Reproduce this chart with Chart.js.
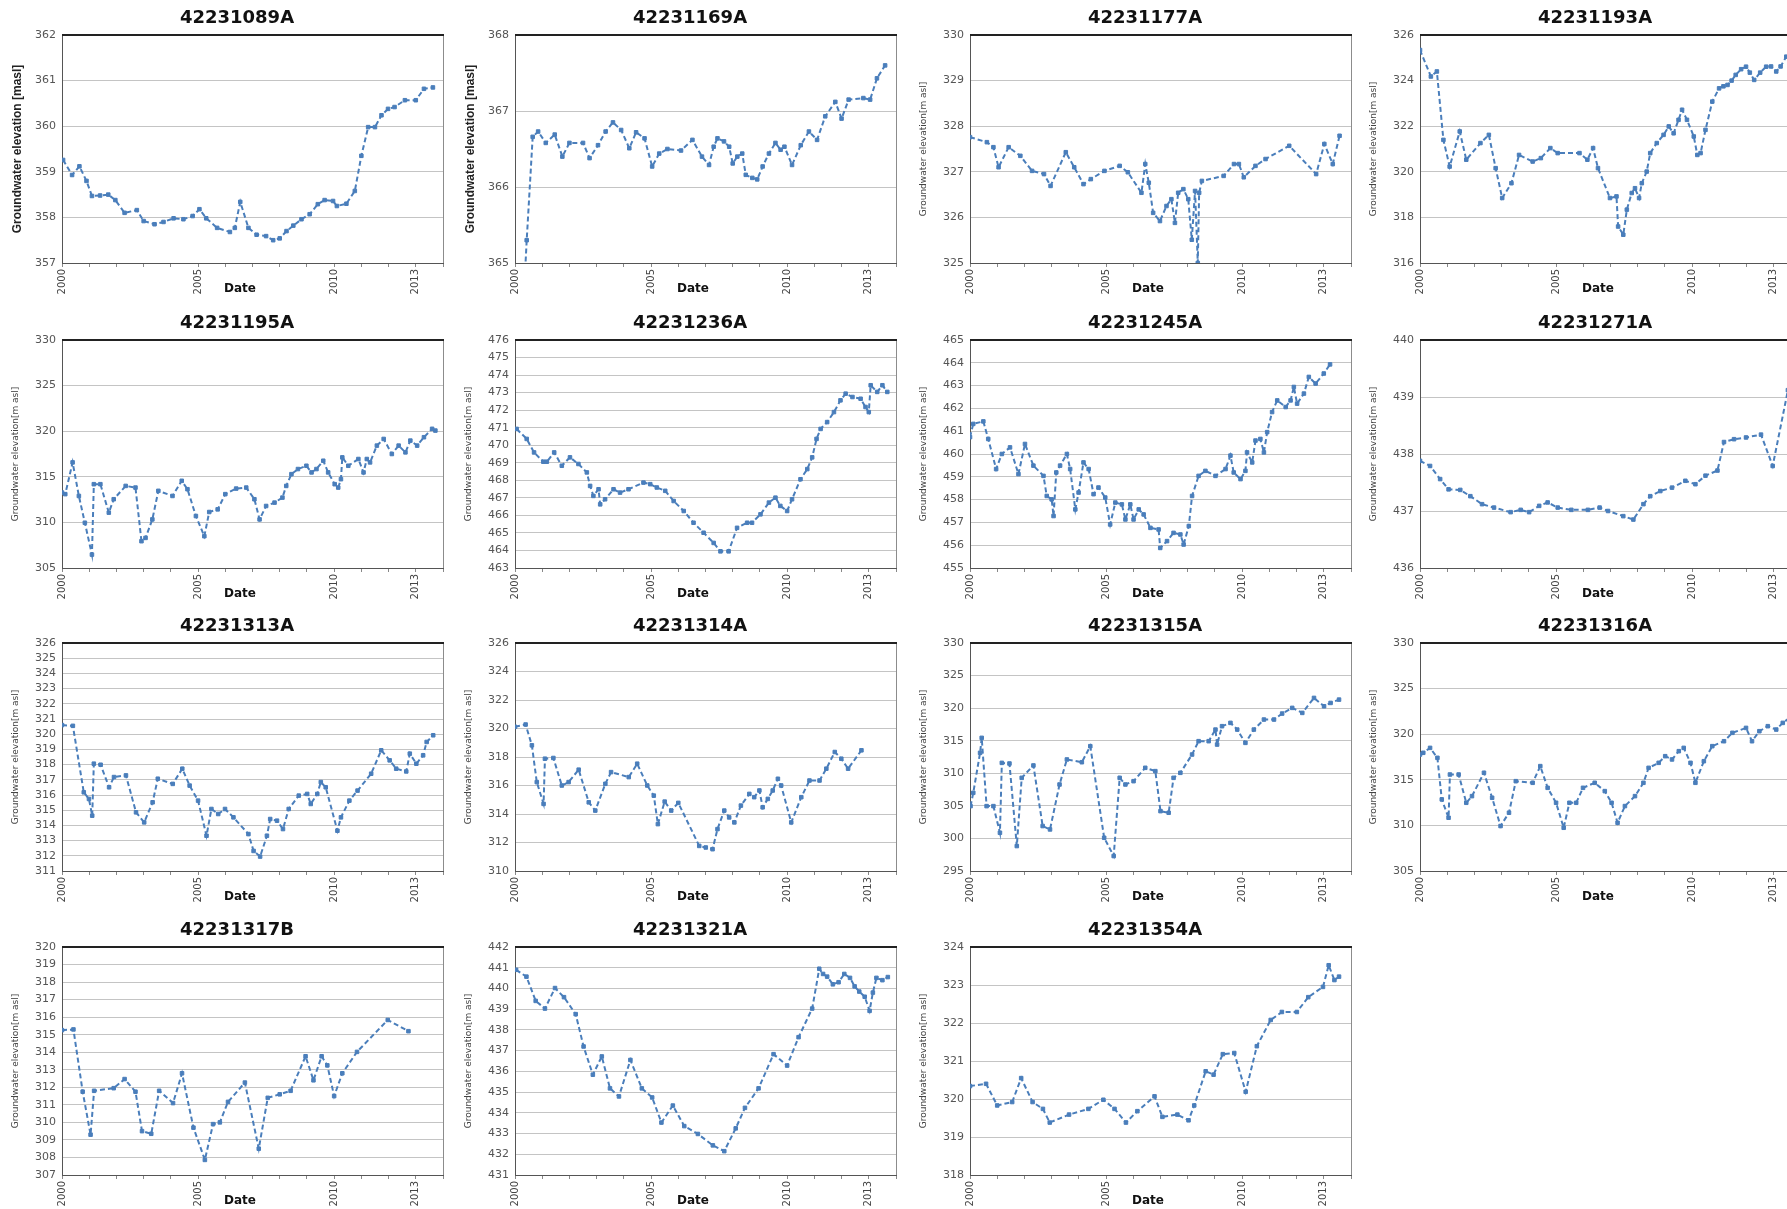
<!DOCTYPE html>
<html>
<head>
<meta charset="utf-8">
<title>Groundwater elevation hydrographs</title>
<script src="https://cdn.jsdelivr.net/npm/chart.js@4.4.0/dist/chart.umd.min.js"></script>
<style>
  html, body { margin: 0; padding: 0; background: #fff; }
  body { width: 1787px; height: 1209px; overflow: hidden; position: relative; }
  canvas { position: absolute; }
</style>
</head>
<body>
<script>
// Well names, one panel each (read row by row)
const wells = ['42231089A', '42231169A', '42231177A', '42231193A',
               '42231195A', '42231236A', '42231245A', '42231271A',
               '42231313A', '42231314A', '42231315A', '42231316A',
               '42231317B', '42231321A', '42231354A'];

// Y axis range and step of every panel
const yMin  = [357, 365, 325, 316, 305, 463, 455, 436, 311, 310, 295, 305, 307, 431, 318];
const yMax  = [362, 368, 330, 326, 330, 476, 465, 440, 326, 326, 330, 330, 320, 442, 324];
const yStep = [1, 1, 1, 2, 5, 1, 1, 1, 1, 2, 5, 5, 1, 1, 1];

// X axis: years, only some of them labelled
const xMin = 2000;
const xMax = 2014;
const labelledYears = [2000, 2005, 2010, 2013];

// Measurements: decimal year + groundwater elevation (m asl)
const years1089 = [2000.04, 2000.37, 2000.64, 2000.90, 2001.10, 2001.40, 2001.70, 2001.96, 2002.30, 2002.75,
  2003.00, 2003.40, 2003.73, 2004.10, 2004.46, 2004.80, 2005.05, 2005.30, 2005.70, 2006.17,
  2006.35, 2006.55, 2006.85, 2007.15, 2007.50, 2007.76, 2008.00, 2008.25, 2008.50, 2008.80,
  2009.10, 2009.40, 2009.65, 2009.96, 2010.10, 2010.45, 2010.76, 2011.00, 2011.25, 2011.50,
  2011.74, 2011.98, 2012.22, 2012.60, 2013.00, 2013.30, 2013.63];
const elev1089 = [359.26, 358.93, 359.12, 358.80, 358.47, 358.48, 358.50, 358.38, 358.10, 358.16,
  357.92, 357.85, 357.90, 357.98, 357.96, 358.03, 358.18, 357.98, 357.77, 357.68,
  357.77, 358.34, 357.77, 357.62, 357.59, 357.50, 357.54, 357.70, 357.82, 357.96,
  358.07, 358.29, 358.38, 358.36, 358.25, 358.30, 358.58, 359.35, 359.98, 359.98,
  360.24, 360.38, 360.42, 360.57, 360.57, 360.82, 360.85];

const years1169 = [2000.33, 2000.43, 2000.65, 2000.85, 2001.13, 2001.46, 2001.74, 2002.00, 2002.50, 2002.74,
  2003.05, 2003.33, 2003.60, 2003.90, 2004.20, 2004.45, 2004.76, 2005.04, 2005.30, 2005.60,
  2006.10, 2006.52, 2006.87, 2007.13, 2007.30, 2007.44, 2007.68, 2007.87, 2008.00, 2008.17,
  2008.35, 2008.48, 2008.72, 2008.90, 2009.10, 2009.33, 2009.57, 2009.76, 2009.90, 2010.18,
  2010.50, 2010.80, 2011.10, 2011.40, 2011.77, 2012.00, 2012.26, 2012.80, 2013.05, 2013.30,
  2013.60];
const elev1169 = [364.60, 365.30, 366.66, 366.73, 366.58, 366.69, 366.40, 366.58, 366.58, 366.38,
  366.55, 366.73, 366.85, 366.75, 366.51, 366.72, 366.64, 366.27, 366.44, 366.50,
  366.48, 366.62, 366.40, 366.29, 366.53, 366.64, 366.60, 366.53, 366.31, 366.40,
  366.44, 366.16, 366.12, 366.10, 366.27, 366.44, 366.58, 366.49, 366.53, 366.29,
  366.55, 366.73, 366.62, 366.93, 367.12, 366.90, 367.15, 367.17, 367.15, 367.43,
  367.60];

const years1177 = [2000.00, 2000.62, 2000.86, 2001.05, 2001.42, 2001.85, 2002.28, 2002.72, 2002.96, 2003.52,
  2003.83, 2004.17, 2004.44, 2004.94, 2005.50, 2005.80, 2006.30, 2006.44, 2006.57, 2006.73,
  2006.98, 2007.22, 2007.40, 2007.53, 2007.65, 2007.84, 2008.02, 2008.15, 2008.27, 2008.37,
  2008.42, 2008.52, 2009.32, 2009.70, 2009.88, 2010.06, 2010.49, 2010.86, 2011.73, 2012.72,
  2013.02, 2013.33, 2013.58];
const elev1177 = [327.76, 327.65, 327.54, 327.10, 327.54, 327.35, 327.02, 326.95, 326.69, 327.43,
  327.10, 326.73, 326.84, 327.02, 327.13, 326.99, 326.54, 327.17, 326.76, 326.10,
  325.92, 326.25, 326.40, 325.88, 326.54, 326.62, 326.40, 325.51, 326.58, 325.00,
  326.54, 326.80, 326.91, 327.17, 327.17, 326.88, 327.13, 327.28, 327.57, 326.95,
  327.61, 327.17, 327.79];

const years1193 = [2000.00, 2000.40, 2000.62, 2000.86, 2001.09, 2001.46, 2001.70, 2002.22, 2002.53, 2002.78,
  2003.02, 2003.36, 2003.64, 2004.14, 2004.44, 2004.79, 2005.06, 2005.86, 2006.15, 2006.36,
  2006.54, 2006.98, 2007.22, 2007.28, 2007.47, 2007.60, 2007.78, 2007.90, 2008.05, 2008.15,
  2008.33, 2008.46, 2008.70, 2008.95, 2009.14, 2009.32, 2009.50, 2009.63, 2009.81, 2010.06,
  2010.19, 2010.31, 2010.49, 2010.74, 2010.99, 2011.15, 2011.30, 2011.45, 2011.60, 2011.80,
  2011.98, 2012.12, 2012.28, 2012.50, 2012.72, 2012.90, 2013.09, 2013.25, 2013.46, 2013.64];
const elev1193 = [325.34, 324.18, 324.40, 321.40, 320.23, 321.77, 320.53, 321.26, 321.62, 320.16,
  318.85, 319.50, 320.74, 320.45, 320.60, 321.04, 320.82, 320.82, 320.53, 321.04,
  320.16, 318.85, 318.92, 317.60, 317.24, 318.34, 319.07, 319.28, 318.85, 319.50,
  320.01, 320.82, 321.26, 321.62, 321.99, 321.69, 322.28, 322.72, 322.28, 321.55,
  320.74, 320.82, 321.84, 323.08, 323.66, 323.75, 323.81, 324.00, 324.25, 324.50,
  324.61, 324.35, 324.03, 324.35, 324.61, 324.62, 324.40, 324.62, 325.05, 325.34];

const years1195 = [2000.00, 2000.12, 2000.39, 2000.62, 2000.84, 2001.10, 2001.17, 2001.41, 2001.72, 2001.90,
  2002.34, 2002.70, 2002.92, 2003.07, 2003.32, 2003.54, 2004.06, 2004.40, 2004.61, 2004.92,
  2005.23, 2005.41, 2005.72, 2006.00, 2006.40, 2006.77, 2007.07, 2007.26, 2007.50, 2007.81,
  2008.10, 2008.24, 2008.43, 2008.67, 2008.98, 2009.17, 2009.35, 2009.60, 2009.78, 2010.02,
  2010.15, 2010.25, 2010.30, 2010.52, 2010.89, 2011.08, 2011.20, 2011.32, 2011.57, 2011.82,
  2012.12, 2012.37, 2012.62, 2012.80, 2013.05, 2013.30, 2013.60, 2013.72];
const elev1195 = [313.27, 313.10, 316.58, 312.90, 309.96, 306.47, 314.19, 314.19, 311.07, 312.54,
  314.00, 313.82, 307.94, 308.30, 310.33, 313.46, 312.90, 314.56, 313.64, 310.70,
  308.49, 311.14, 311.43, 313.10, 313.71, 313.82, 312.54, 310.33, 311.80, 312.17,
  312.72, 314.00, 315.29, 315.85, 316.21, 315.48, 315.85, 316.76, 315.48, 314.19,
  313.82, 314.74, 317.13, 316.21, 316.95, 315.48, 316.95, 316.58, 318.42, 319.15,
  317.50, 318.42, 317.68, 318.97, 318.42, 319.34, 320.26, 320.07];

const years1236 = [2000.06, 2000.43, 2000.70, 2001.04, 2001.17, 2001.44, 2001.72, 2002.02, 2002.33, 2002.64,
  2002.76, 2002.88, 2003.07, 2003.13, 2003.31, 2003.62, 2003.86, 2004.17, 2004.72, 2004.97,
  2005.21, 2005.52, 2005.83, 2006.20, 2006.56, 2006.93, 2007.30, 2007.55, 2007.85, 2008.16,
  2008.53, 2008.71, 2009.02, 2009.33, 2009.57, 2009.75, 2010.00, 2010.18, 2010.49, 2010.74,
  2010.92, 2011.08, 2011.23, 2011.47, 2011.72, 2011.96, 2012.15, 2012.40, 2012.70, 2012.88,
  2013.00, 2013.07, 2013.31, 2013.50, 2013.68];
const elev1236 = [470.93, 470.36, 469.59, 469.06, 469.06, 469.59, 468.83, 469.31, 468.93, 468.45,
  467.68, 467.11, 467.49, 466.63, 466.92, 467.49, 467.30, 467.49, 467.87, 467.78,
  467.59, 467.40, 466.82, 466.25, 465.58, 465.01, 464.43, 463.95, 463.95, 465.29,
  465.58, 465.58, 466.06, 466.73, 467.01, 466.54, 466.25, 466.92, 468.06, 468.64,
  469.31, 470.36, 470.93, 471.32, 471.89, 472.56, 472.94, 472.75, 472.65, 472.18,
  471.89, 473.42, 473.04, 473.42, 473.04];

const years1245 = [2000.00, 2000.12, 2000.49, 2000.67, 2000.96, 2001.17, 2001.47, 2001.78, 2002.02, 2002.33,
  2002.70, 2002.82, 2003.00, 2003.07, 2003.17, 2003.31, 2003.56, 2003.68, 2003.87, 2003.99,
  2004.17, 2004.36, 2004.54, 2004.72, 2004.97, 2005.15, 2005.34, 2005.58, 2005.71, 2005.89,
  2006.01, 2006.20, 2006.38, 2006.63, 2006.93, 2006.99, 2007.24, 2007.48, 2007.73, 2007.85,
  2008.04, 2008.16, 2008.40, 2008.65, 2009.02, 2009.39, 2009.57, 2009.69, 2009.94, 2010.12,
  2010.18, 2010.37, 2010.49, 2010.67, 2010.80, 2010.92, 2011.10, 2011.29, 2011.60, 2011.78,
  2011.90, 2012.02, 2012.27, 2012.45, 2012.70, 2013.00, 2013.23];
const elev1245 = [460.74, 461.32, 461.43, 460.66, 459.34, 460.00, 460.29, 459.12, 460.44, 459.49,
  459.04, 458.16, 458.01, 457.28, 459.19, 459.49, 460.00, 459.34, 457.57, 458.31,
  459.63, 459.34, 458.24, 458.53, 458.09, 456.91, 457.87, 457.79, 457.13, 457.79,
  457.13, 457.57, 457.35, 456.76, 456.69, 455.88, 456.18, 456.54, 456.47, 456.03,
  456.84, 458.16, 459.04, 459.26, 459.04, 459.34, 459.93, 459.19, 458.90, 459.26,
  460.07, 459.63, 460.59, 460.66, 460.07, 460.96, 461.84, 462.35, 462.06, 462.35,
  462.94, 462.21, 462.65, 463.38, 463.09, 463.53, 463.93];

const years1271 = [2000.00, 2000.37, 2000.74, 2001.05, 2001.48, 2001.85, 2002.28, 2002.72, 2003.33, 2003.70,
  2004.01, 2004.38, 2004.69, 2005.06, 2005.56, 2006.17, 2006.60, 2006.91, 2007.47, 2007.84,
  2008.21, 2008.46, 2008.83, 2009.26, 2009.75, 2010.12, 2010.49, 2010.93, 2011.17, 2011.54,
  2011.98, 2012.53, 2012.96, 2013.52, 2013.70];
const elev1271 = [437.88, 437.79, 437.56, 437.38, 437.37, 437.26, 437.12, 437.06, 436.98, 437.02,
  436.98, 437.09, 437.15, 437.06, 437.02, 437.02, 437.06, 437.00, 436.91, 436.85,
  437.12, 437.26, 437.35, 437.41, 437.53, 437.47, 437.62, 437.71, 438.21, 438.26,
  438.29, 438.34, 437.79, 439.12, 439.40];

const years1313 = [2000.00, 2000.40, 2000.80, 2000.99, 2001.11, 2001.17, 2001.42, 2001.73, 2001.91, 2002.35,
  2002.72, 2003.02, 2003.33, 2003.52, 2004.07, 2004.42, 2004.69, 2005.00, 2005.31, 2005.49,
  2005.74, 2005.99, 2006.30, 2006.85, 2007.04, 2007.28, 2007.53, 2007.65, 2007.90, 2008.12,
  2008.33, 2008.70, 2009.01, 2009.14, 2009.38, 2009.51, 2009.69, 2010.12, 2010.25, 2010.56,
  2010.86, 2011.36, 2011.73, 2012.04, 2012.28, 2012.65, 2012.78, 2013.02, 2013.27, 2013.40,
  2013.64];
const elev1313 = [320.60, 320.55, 316.18, 315.74, 314.64, 318.06, 317.99, 316.51, 317.18, 317.29,
  314.86, 314.20, 315.52, 317.07, 316.73, 317.73, 316.62, 315.63, 313.32, 315.08,
  314.75, 315.08, 314.53, 313.43, 312.32, 311.95, 313.32, 314.42, 314.31, 313.76,
  315.08, 315.96, 316.07, 315.41, 316.07, 316.85, 316.51, 313.65, 314.53, 315.63,
  316.29, 317.40, 318.94, 318.28, 317.73, 317.55, 318.72, 318.06, 318.61, 319.49,
  319.93];

const years1314 = [2000.00, 2000.39, 2000.62, 2000.80, 2001.05, 2001.10, 2001.41, 2001.72, 2001.97, 2002.34,
  2002.71, 2002.95, 2003.32, 2003.53, 2004.18, 2004.49, 2004.86, 2005.10, 2005.25, 2005.50,
  2005.74, 2006.00, 2006.77, 2007.01, 2007.26, 2007.44, 2007.69, 2007.87, 2008.06, 2008.30,
  2008.61, 2008.79, 2008.98, 2009.10, 2009.29, 2009.47, 2009.66, 2009.78, 2010.15, 2010.52,
  2010.82, 2011.19, 2011.44, 2011.75, 2011.99, 2012.24, 2012.73];
const elev1314 = [320.12, 320.28, 318.82, 316.24, 314.71, 317.88, 317.93, 316.00, 316.24, 317.11,
  314.82, 314.24, 316.12, 316.94, 316.59, 317.53, 316.00, 315.29, 313.29, 314.87,
  314.24, 314.78, 311.76, 311.65, 311.53, 312.94, 314.24, 313.76, 313.41, 314.59,
  315.41, 315.18, 315.65, 314.47, 315.06, 315.65, 316.47, 316.00, 313.41, 315.18,
  316.35, 316.35, 317.18, 318.35, 317.88, 317.18, 318.47];

const years1315 = [2000.02, 2000.12, 2000.37, 2000.43, 2000.61, 2000.86, 2001.10, 2001.17, 2001.45, 2001.72,
  2001.90, 2002.33, 2002.67, 2002.94, 2003.29, 2003.56, 2004.11, 2004.42, 2004.93, 2005.28,
  2005.50, 2005.71, 2006.01, 2006.44, 2006.81, 2007.00, 2007.30, 2007.48, 2007.73, 2008.16,
  2008.40, 2008.77, 2009.02, 2009.08, 2009.26, 2009.57, 2009.82, 2010.12, 2010.43, 2010.80,
  2011.17, 2011.47, 2011.84, 2012.21, 2012.64, 2013.01, 2013.25, 2013.56];
const elev1315 = [304.96, 307.00, 313.14, 315.44, 304.96, 304.96, 300.87, 311.60, 311.50, 298.83,
  309.30, 311.20, 301.90, 301.38, 308.28, 312.12, 311.70, 314.16, 300.10, 297.30,
  309.30, 308.28, 308.79, 310.84, 310.33, 304.19, 303.94, 309.30, 310.07, 312.88,
  314.93, 314.93, 316.71, 314.41, 317.23, 317.74, 316.71, 314.67, 316.71, 318.25,
  318.25, 319.17, 320.04, 319.27, 321.57, 320.29, 320.80, 321.31];

const years1316 = [2000.00, 2000.12, 2000.37, 2000.64, 2000.80, 2001.05, 2001.10, 2001.42, 2001.70, 2001.91,
  2002.35, 2002.65, 2002.96, 2003.27, 2003.52, 2004.14, 2004.42, 2004.69, 2005.00, 2005.28,
  2005.49, 2005.74, 2005.99, 2006.42, 2006.79, 2007.04, 2007.26, 2007.53, 2007.90, 2008.21,
  2008.40, 2008.77, 2009.01, 2009.26, 2009.51, 2009.69, 2009.94, 2010.12, 2010.43, 2010.74,
  2011.17, 2011.48, 2011.98, 2012.20, 2012.47, 2012.78, 2013.09, 2013.33, 2013.58];
const elev1316 = [317.77, 317.96, 318.50, 317.41, 312.85, 310.84, 315.58, 315.58, 312.48, 313.21,
  315.77, 313.03, 309.93, 311.39, 314.85, 314.67, 316.50, 314.12, 312.48, 309.74,
  312.48, 312.48, 314.12, 314.67, 313.76, 312.48, 310.29, 312.12, 313.21, 314.67,
  316.31, 316.86, 317.59, 317.23, 318.14, 318.50, 316.86, 314.67, 317.04, 318.69,
  319.23, 320.15, 320.69, 319.23, 320.33, 320.88, 320.51, 321.24, 321.79];

const years1317 = [2000.00, 2000.42, 2000.76, 2001.05, 2001.18, 2001.90, 2002.30, 2002.70, 2002.94, 2003.28,
  2003.57, 2004.08, 2004.41, 2004.83, 2005.25, 2005.55, 2005.80, 2006.10, 2006.72, 2007.23,
  2007.56, 2008.00, 2008.40, 2008.95, 2009.24, 2009.54, 2009.75, 2010.00, 2010.30, 2010.84,
  2011.97, 2012.73];
const elev1317 = [315.26, 315.30, 311.75, 309.30, 311.80, 311.95, 312.47, 311.75, 309.50, 309.35,
  311.80, 311.10, 312.80, 309.70, 307.86, 309.90, 310.00, 311.17, 312.27, 308.50,
  311.40, 311.60, 311.80, 313.77, 312.40, 313.77, 313.25, 311.50, 312.80, 314.02,
  315.84, 315.20];

const years1321 = [2000.04, 2000.42, 2000.76, 2001.10, 2001.47, 2001.80, 2002.23, 2002.52, 2002.86, 2003.19,
  2003.49, 2003.82, 2004.24, 2004.66, 2005.04, 2005.38, 2005.80, 2006.22, 2006.72, 2007.27,
  2007.69, 2008.11, 2008.45, 2008.95, 2009.50, 2010.00, 2010.42, 2010.92, 2011.18, 2011.32,
  2011.47, 2011.68, 2011.89, 2012.10, 2012.31, 2012.48, 2012.65, 2012.85, 2013.03, 2013.15,
  2013.28, 2013.50, 2013.70];
const elev1321 = [440.90, 440.57, 439.40, 439.03, 440.02, 439.58, 438.76, 437.20, 435.84, 436.72,
  435.18, 434.79, 436.55, 435.18, 434.74, 433.53, 434.35, 433.36, 432.98, 432.43,
  432.15, 433.25, 434.24, 435.18, 436.83, 436.28, 437.65, 439.03, 440.95, 440.70,
  440.57, 440.20, 440.30, 440.70, 440.51, 440.10, 439.85, 439.60, 438.92, 439.80,
  440.51, 440.40, 440.55];

const years1354 = [2000.00, 2000.59, 2001.00, 2001.55, 2001.88, 2002.30, 2002.68, 2002.93, 2003.64, 2004.35,
  2004.90, 2005.31, 2005.73, 2006.15, 2006.78, 2007.07, 2007.62, 2008.03, 2008.24, 2008.66,
  2008.95, 2009.29, 2009.71, 2010.13, 2010.54, 2011.05, 2011.46, 2012.01, 2012.43, 2012.97,
  2013.18, 2013.39, 2013.56];
const elev1354 = [320.34, 320.40, 319.83, 319.92, 320.55, 319.92, 319.74, 319.38, 319.59, 319.74,
  319.98, 319.74, 319.38, 319.68, 320.07, 319.53, 319.59, 319.44, 319.83, 320.73,
  320.64, 321.18, 321.21, 320.19, 321.39, 322.08, 322.29, 322.29, 322.68, 322.95,
  323.52, 323.13, 323.22];

const seriesYears = [years1089, years1169, years1177, years1193, years1195, years1236, years1245, years1271,
  years1313, years1314, years1315, years1316, years1317, years1321, years1354];
const seriesElev = [elev1089, elev1169, elev1177, elev1193, elev1195, elev1236, elev1245, elev1271,
  elev1313, elev1314, elev1315, elev1316, elev1317, elev1321, elev1354];

// Panel placement (4 columns, the last one runs off the page)
const colLeft = [0, 453, 908, 1358];
const rowTop = [0, 305, 608, 912];
const panelW = 452;
const panelH = 304;
const lineColor = '#4A7EBB';

// Title above the plot, "Date" under the axis and the plot frame
const panelDecor = {
  id: 'panelDecor',
  beforeDatasetsDraw(chart) {
    const { ctx, chartArea: a } = chart;
    ctx.save();
    ctx.strokeStyle = '#8c8c8c';
    ctx.lineWidth = 1;
    ctx.beginPath();
    ctx.moveTo(a.right + 0.5, a.top);
    ctx.lineTo(a.right + 0.5, a.bottom);
    ctx.stroke();
    ctx.strokeStyle = '#222';
    ctx.lineWidth = 2;
    ctx.beginPath();
    ctx.moveTo(a.left, a.top);
    ctx.lineTo(a.right + 1, a.top);
    ctx.stroke();
    ctx.restore();
  },
  afterDraw(chart, args, opts) {
    const ctx = chart.ctx;
    ctx.save();
    ctx.fillStyle = '#111';
    ctx.textAlign = 'center';
    ctx.textBaseline = 'middle';
    ctx.font = 'bold 18px "DejaVu Sans"';
    ctx.fillText(opts.title, 237, 18);
    ctx.font = 'bold 12px "DejaVu Sans"';
    ctx.fillText('Date', 240, 289);
    ctx.restore();
  }
};

wells.forEach((name, i) => {
  const canvas = document.createElement('canvas');
  canvas.width = panelW;
  canvas.height = panelH;
  canvas.style.left = colLeft[i % 4] + 'px';
  canvas.style.top = rowTop[Math.floor(i / 4)] + 'px';
  document.body.appendChild(canvas);

  const bigTitle = i < 2;
  const points = seriesYears[i].map((x, k) => ({ x: x, y: seriesElev[i][k] }));

  new Chart(canvas.getContext('2d'), {
    type: 'line',
    data: {
      datasets: [{
        label: name,
        data: points,
        borderColor: lineColor,
        backgroundColor: lineColor,
        borderWidth: 2,
        borderDash: [5, 3],
        pointStyle: 'rect',
        pointRadius: 2.5,
        pointBorderWidth: 1,
        pointBackgroundColor: lineColor,
        pointBorderColor: lineColor,
        tension: 0
      }]
    },
    options: {
      responsive: false,
      animation: false,
      layout: { padding: { top: 35, right: 9, left: 0, bottom: 0 } },
      plugins: {
        legend: { display: false },
        tooltip: { enabled: false },
        panelDecor: { title: name }
      },
      scales: {
        x: {
          type: 'linear',
          min: xMin,
          max: xMax,
          afterFit: s => {
            s.height = 41;
            s.paddingLeft = 0;
            s.paddingRight = 0;
          },
          ticks: {
            stepSize: 1,
            autoSkip: false,
            minRotation: 90,
            maxRotation: 90,
            padding: 2,
            color: '#444',
            font: { family: 'DejaVu Sans', size: 10 },
            callback: v => labelledYears.includes(v) ? String(v) : ''
          },
          grid: { drawOnChartArea: false, drawTicks: true, tickLength: 4, color: '#888' },
          border: { color: '#555', width: 1 }
        },
        y: {
          min: yMin[i],
          max: yMax[i],
          afterFit: s => { s.width = 62; },
          ticks: {
            stepSize: yStep[i],
            autoSkip: false,
            padding: 6,
            color: '#555',
            font: { family: 'DejaVu Sans', size: 11 }
          },
          grid: { color: '#c4c4c4', drawTicks: false },
          border: { color: '#555', width: 1 },
          title: {
            display: true,
            text: bigTitle ? 'Groundwater elevation [masl]' : 'Groundwater elevation[m asl]',
            color: bigTitle ? '#222' : '#444',
            font: bigTitle
              ? { family: 'Liberation Sans', size: 12, weight: 'bold' }
              : { family: 'DejaVu Sans', size: 9 },
            padding: { top: 10, bottom: 0 }
          }
        }
      }
    },
    plugins: [panelDecor]
  });
});
</script>
</body>
</html>
